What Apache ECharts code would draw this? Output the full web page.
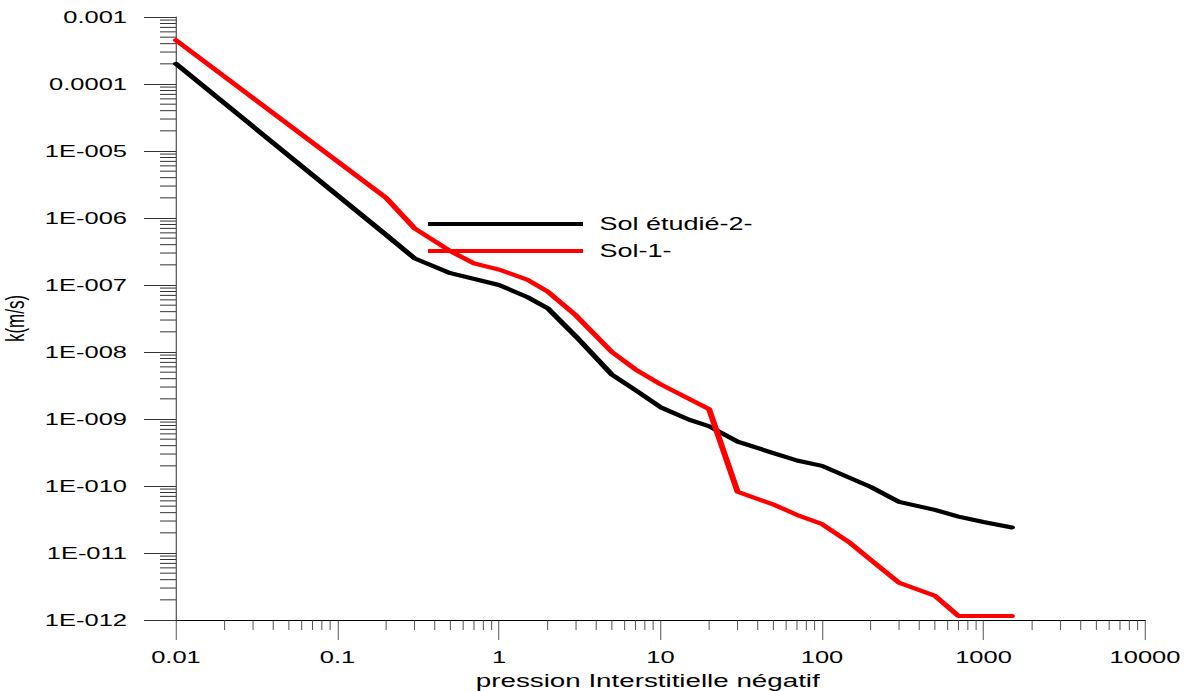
<!DOCTYPE html>
<html>
<head>
<meta charset="utf-8">
<script src="https://cdn.jsdelivr.net/npm/echarts@6/dist/echarts.min.js"></script>
<style>
  html, body { margin: 0; padding: 0; background: #fff; overflow: hidden; }
  #chart { position: absolute; left: 0; top: 0; transform-origin: 0 0; }
</style>
</head>
<body>
<div id="chart"></div>
<script>
// Hydraulic conductivity k (m/s) versus negative pore pressure, two soils.
const soil2Name = 'Sol étudié-2-';
const soil1Name = 'Sol-1-';

const soil2Pressure = [0.01, 0.2, 0.3, 0.5, 1, 1.5, 2, 3, 5, 7, 10, 15, 20, 30, 50, 70, 100, 200, 300, 500, 700, 1000, 1500];
const soil2K = [2.0e-4, 5.6e-7, 2.5e-7, 1.5e-7, 1.0e-7, 6.6e-8, 4.5e-8, 1.7e-8, 4.6e-9, 2.7e-9, 1.5e-9, 9.8e-10, 7.8e-10, 4.6e-10, 3.1e-10, 2.4e-10, 2.0e-10, 9.7e-11, 5.8e-11, 4.4e-11, 3.5e-11, 2.9e-11, 2.4e-11];

const soil1Pressure = [0.01, 0.2, 0.3, 0.5, 0.7, 1, 1.5, 2, 3, 5, 7, 10, 20, 30, 50, 70, 100, 150, 200, 300, 500, 700, 1000, 1500];
const soil1K = [4.5e-4, 2.0e-6, 7.0e-7, 3.2e-7, 2.1e-7, 1.7e-7, 1.2e-7, 8.0e-8, 3.5e-8, 1.0e-8, 5.5e-9, 3.3e-9, 1.4e-9, 8.2e-11, 5.3e-11, 3.7e-11, 2.7e-11, 1.4e-11, 7.9e-12, 3.6e-12, 2.3e-12, 1.15e-12, 1.15e-12, 1.15e-12];

// Tick labels, one per decade
const xTickLabels = ['0.01', '0.1', '1', '10', '100', '1000', '10000'];
const yTickLabels = ['1E-012', '1E-011', '1E-010', '1E-009', '1E-008', '1E-007', '1E-006', '1E-005', '0.0001', '0.001'];
const xMinExp = -2, xMaxExp = 4;
const yMinExp = -12, yMaxExp = -3;

const xTitle = 'pression Interstitielle négatif';
const yTitle = 'k(m/s)';

// The drawing is laid out narrow, then widened horizontally (wide lettering).
const STRETCH = 1.5;
const W = 1192 / STRETCH, H = 691;
const FONT = 'Liberation Sans, Arial, sans-serif';

// Logarithmic minor tick positions (2..9 within each decade)
function minorValues(e0, e1) {
  const out = [];
  for (let e = e0; e < e1; e++) {
    for (let m = 2; m <= 9; m++) out.push(m * Math.pow(10, e));
  }
  return out;
}
const xMinor = minorValues(xMinExp, xMaxExp).map(v => [v, Math.pow(10, yMinExp)]);
const yMinor = minorValues(yMinExp, yMaxExp).map(v => [Math.pow(10, xMinExp), v]);

const toPairs = (xs, ys) => xs.map((x, i) => [x, ys[i]]);

const dom = document.getElementById('chart');
dom.style.width = W + 'px';
dom.style.height = H + 'px';
dom.style.transform = 'scaleX(' + STRETCH + ')';
const chart = echarts.init(dom, null, { renderer: 'svg', width: W, height: H });

const vLine = 1 / STRETCH; // vertical strokes end up 1px wide after widening
const tickColor = '#333';

chart.setOption({
  animation: false,
  backgroundColor: '#fff',
  grid: {
    left: 176 / STRETCH, right: (1192 - 1145) / STRETCH, top: 17, bottom: 71,
    containLabel: false, outerBoundsMode: 'none'
  },
  legend: {
    orient: 'vertical',
    left: 428 / STRETCH,
    top: 215,
    padding: 0,
    itemWidth: 155 / STRETCH,
    itemHeight: 4,
    itemGap: 9,
    icon: 'rect',
    data: [soil2Name, soil1Name],
    textStyle: { fontFamily: FONT, fontSize: 18, color: '#000', padding: [0, 0, 0, 6] }
  },
  xAxis: {
    type: 'log',
    logBase: 10,
    min: Math.pow(10, xMinExp),
    max: Math.pow(10, xMaxExp),
    interval: 1,
    name: xTitle,
    nameLocation: 'middle',
    nameGap: 44,
    nameTextStyle: { fontFamily: FONT, fontSize: 18.5, color: '#000', padding: [0, 17, 0, 0] },
    axisLine: { show: true, onZero: false, lineStyle: { color: '#000', width: 1 } },
    axisTick: { show: true, inside: false, length: 20, lineStyle: { color: tickColor, width: vLine } },
    axisLabel: {
      margin: 29, fontFamily: FONT, fontSize: 17, color: '#000',
      formatter: v => xTickLabels[Math.round(Math.log10(v)) - xMinExp]
    },
    splitLine: { show: false },
    minorTick: { show: false },
    minorSplitLine: { show: false }
  },
  yAxis: {
    type: 'log',
    logBase: 10,
    min: Math.pow(10, yMinExp),
    max: Math.pow(10, yMaxExp),
    interval: 1,
    name: yTitle,
    nameLocation: 'middle',
    nameGap: 99,
    nameRotate: 90,
    nameTextStyle: { fontFamily: FONT, fontSize: 17, color: '#000' },
    axisLine: { show: true, onZero: false, lineStyle: { color: '#000', width: vLine } },
    axisTick: { show: true, inside: false, length: 32 / STRETCH, lineStyle: { color: tickColor, width: 1 } },
    axisLabel: {
      margin: 49 / STRETCH, fontFamily: FONT, fontSize: 17, color: '#000',
      formatter: v => yTickLabels[Math.round(Math.log10(v)) - yMinExp]
    },
    splitLine: { show: false },
    minorTick: { show: false },
    minorSplitLine: { show: false }
  },
  series: [
    {
      name: soil2Name,
      type: 'line',
      data: toPairs(soil2Pressure, soil2K),
      showSymbol: false,
      symbol: 'none',
      lineStyle: { color: '#000', width: 4, cap: 'round', join: 'round' },
      itemStyle: { color: '#000' },
      z: 3
    },
    {
      name: soil1Name,
      type: 'line',
      data: toPairs(soil1Pressure, soil1K),
      showSymbol: false,
      symbol: 'none',
      lineStyle: { color: '#ff0000', width: 4, cap: 'round', join: 'round' },
      itemStyle: { color: '#ff0000' },
      z: 4
    },
    {
      name: 'xMinorTicks',
      type: 'custom',
      silent: true,
      clip: false,
      data: xMinor,
      encode: { x: 0, y: 1 },
      renderItem: (params, api) => {
        const p = api.coord([api.value(0), api.value(1)]);
        return {
          type: 'line',
          shape: { x1: p[0], y1: p[1], x2: p[0], y2: p[1] + 10 },
          style: { stroke: tickColor, lineWidth: vLine }
        };
      },
      z: 2
    },
    {
      name: 'yMinorTicks',
      type: 'custom',
      silent: true,
      clip: false,
      data: yMinor,
      encode: { x: 0, y: 1 },
      renderItem: (params, api) => {
        const p = api.coord([api.value(0), api.value(1)]);
        return {
          type: 'line',
          shape: { x1: p[0] - 16 / STRETCH, y1: p[1], x2: p[0], y2: p[1] },
          style: { stroke: tickColor, lineWidth: 1 }
        };
      },
      z: 2
    }
  ]
});
</script>
</body>
</html>
